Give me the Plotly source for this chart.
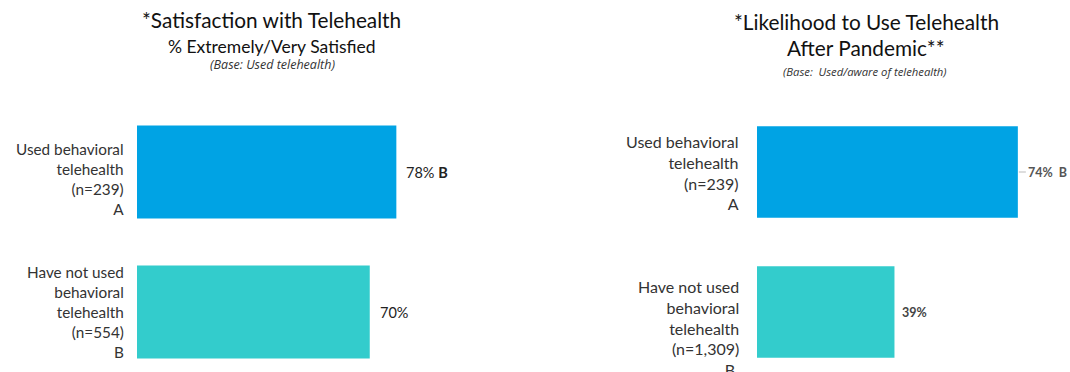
import plotly.graph_objects as go

# Data
categories_left = [
    "Used behavioral<br>telehealth<br>(n=239)<br>A",
    "Have not used<br>behavioral<br>telehealth<br>(n=554)<br>B",
]
values_left = [78, 70]
labels_left = ["78% <b>B</b>", "70%"]

categories_right = [
    "Used behavioral<br>telehealth<br>(n=239)<br>A",
    "Have not used<br>behavioral<br>telehealth<br>(n=1,309)<br>B ",
]
values_right = [74, 39]
labels_right = ["74%  B", "39%"]

bar_colors = ["#00A3E4", "#33CCCC"]

W, H = 1070, 372
FONT = "Lato, 'Open Sans', sans-serif"
FONT_BASE = "'Open Sans', Lato, sans-serif"

fig = go.Figure()
fig.add_trace(go.Bar(
    x=values_left, y=categories_left, orientation="h",
    marker=dict(color=bar_colors, line=dict(width=0)),
    width=0.665, xaxis="x", yaxis="y", hoverinfo="skip",
))
fig.add_trace(go.Bar(
    x=values_right, y=categories_right, orientation="h",
    marker=dict(color=bar_colors, line=dict(width=0)),
    width=0.655, xaxis="x2", yaxis="y2", hoverinfo="skip",
))

annotations = []
# left value labels
for v, c, t in zip(values_left, categories_left, labels_left):
    annotations.append(dict(
        x=v, y=c, xref="x", yref="y", text=t, showarrow=False,
        xanchor="left", yanchor="middle", xshift=8,
        font=dict(family=FONT, size=14.5, color="#222222"),
    ))
# right value labels
annotations.append(dict(
    x=values_right[0], y=categories_right[0], xref="x2", yref="y2",
    text="<b>" + labels_right[0] + "</b>", showarrow=True,
    arrowhead=0, arrowwidth=1, arrowcolor="#BBBBBB", ax=8, ay=0,
    xanchor="left", yanchor="middle", standoff=1,
    font=dict(family=FONT, size=12.5, color="#555555"),
))
annotations.append(dict(
    x=values_right[1], y=categories_right[1], xref="x2", yref="y2",
    text="<b>" + labels_right[1] + "</b>", showarrow=False,
    xanchor="left", yanchor="middle", xshift=6,
    font=dict(family=FONT, size=12.5, color="#444444"),
))

# category labels (right aligned, multi-line)
left_label_x, right_label_x = 125.5, 740.5
for c, ys in zip(categories_left, [-7, 0]):
    annotations.append(dict(
        x=left_label_x / W, y=c, xref="paper", yref="y", text=c, showarrow=False,
        xanchor="right", yanchor="middle", align="right", yshift=ys,
        font=dict(family=FONT, size=15.3, color="#333333"),
    ))
for c, ys in zip(categories_right, [0, -16]):
    annotations.append(dict(
        x=right_label_x / W, y=c, xref="paper", yref="y2", text=c, showarrow=False,
        xanchor="right", yanchor="middle", align="right", yshift=ys,
        font=dict(family=FONT, size=16, color="#333333"),
    ))

# Titles
annotations += [
    dict(x=271 / W, y=1 - 20 / H, xref="paper", yref="paper", showarrow=False,
         text="*Satisfaction with Telehealth", xanchor="center", yanchor="middle",
         font=dict(family=FONT, size=20.8, color="#111111")),
    dict(x=272 / W, y=1 - 46 / H, xref="paper", yref="paper", showarrow=False,
         text="% Extremely/Very Satisfied", xanchor="center", yanchor="middle",
         font=dict(family=FONT, size=17.5, color="#111111")),
    dict(x=272 / W, y=1 - 64 / H, xref="paper", yref="paper", showarrow=False,
         text="<i>(Base: Used telehealth)</i>", xanchor="center", yanchor="middle",
         font=dict(family=FONT_BASE, size=12.5, color="#333333")),
    dict(x=866 / W, y=1 - 22 / H, xref="paper", yref="paper", showarrow=False,
         text="*Likelihood to Use Telehealth", xanchor="center", yanchor="middle",
         font=dict(family=FONT, size=20.8, color="#111111")),
    dict(x=866 / W, y=1 - 47 / H, xref="paper", yref="paper", showarrow=False,
         text="After Pandemic**", xanchor="center", yanchor="middle",
         font=dict(family=FONT, size=20.8, color="#111111")),
    dict(x=865 / W, y=1 - 71 / H, xref="paper", yref="paper", showarrow=False,
         text="<i>(Base:  Used/aware of telehealth)</i>", xanchor="center", yanchor="middle",
         font=dict(family=FONT_BASE, size=11.3, color="#333333")),
]

# axes geometry (pixels -> paper)
left_x0, left_px_per_pct = 137, 3.325
right_x0, right_px_per_pct = 757, 3.525
top_center, spacing = 172, 140
ytop_px = 102
y_bottom_val = 1 + (H - (top_center + spacing)) / spacing

fig.update_layout(
    width=W, height=H,
    margin=dict(l=0, r=0, t=0, b=0),
    paper_bgcolor="white", plot_bgcolor="white",
    showlegend=False,
    font=dict(family=FONT, size=15, color="#333333"),
    annotations=annotations,
    xaxis=dict(domain=[left_x0 / W, (left_x0 + 100 * left_px_per_pct) / W],
               range=[0, 100], visible=False, fixedrange=True),
    xaxis2=dict(domain=[right_x0 / W, 1.0],
                range=[0, (W - right_x0) / right_px_per_pct], visible=False, fixedrange=True),
    yaxis=dict(domain=[0, 1 - ytop_px / H], anchor="x",
               categoryorder="array", categoryarray=categories_left,
               range=[y_bottom_val, -0.5], showline=False, showgrid=False,
               zeroline=False, ticks="", showticklabels=False),
    yaxis2=dict(domain=[0, 1 - ytop_px / H], anchor="x2",
                categoryorder="array", categoryarray=categories_right,
                range=[y_bottom_val, -0.5], showline=False, showgrid=False,
                zeroline=False, ticks="", showticklabels=False),
)

fig.write_html("out.html")
